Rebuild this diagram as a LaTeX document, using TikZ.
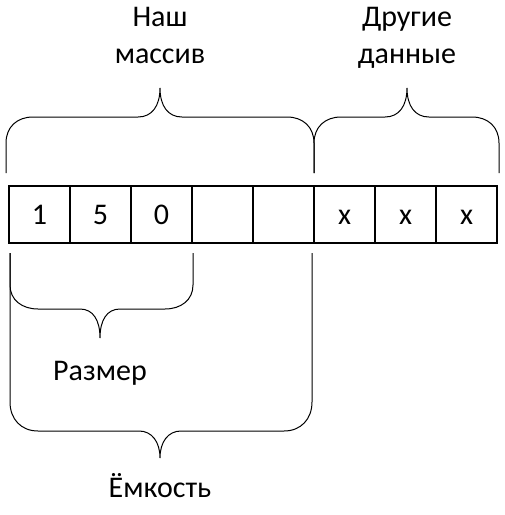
\documentclass[tikz,border=0pt]{standalone}
\usepackage{fontspec}
\setmainfont{Carlito}
\usetikzlibrary{positioning}

\tikzset{
  cell/.style={draw,line width=1.4pt,minimum width=61pt,minimum height=57pt,inner sep=0pt,outer sep=0pt},
  brc/.style={line width=1pt},
  lbl/.style={align=center,anchor=base}
}

\begin{document}
\begin{tikzpicture}[x=1pt,y=-1pt,font=\fontsize{30}{37}\selectfont]
      \useasboundingbox (0,0) rectangle (505,515);
      % the array cells
      \foreach \v [count=\i] in {1,5,0,{},{},x,x,x} {
	\node[cell] (c\i) at ({9+61*(\i-0.5)},214.5) {\vphantom{1}\v};
      }
      % braces above
      \draw[brc] (6,173) -- (6,143) .. controls (6,127) and (17,117) .. (33,117) -- (138,117)
      		.. controls (152,117) and (160,106) .. (160,88) coordinate (t1)
		.. controls (160,106) and (168,117) .. (182,117) -- (287,117)
		.. controls (303,117) and (314,127) .. (314,143) -- (314,173);
      \draw[brc] (314,173) -- (314,143) .. controls (314,127) and (325,117) .. (341,117) -- (385,117)
      		.. controls (399,117) and (407,106) .. (407,88) coordinate (t2)
		.. controls (407,106) and (415,117) .. (429,117) -- (472,117)
		.. controls (488,117) and (499,127) .. (499,143) -- (499,173);
      % braces below
      \draw[brc] (10,253) -- (10,285) .. controls (10,300) and (22,309) .. (38,309) -- (80,309)
      		.. controls (93,309) and (100,320) .. (100,338) coordinate (t3)
		.. controls (100,320) and (107,309) .. (120,309) -- (165,309)
		.. controls (181,309) and (193,300) .. (193,285) -- (193,253);
      \draw[brc] (10,253) -- (10,402) .. controls (10,419) and (21,431) .. (38,431) -- (139,431)
      		.. controls (152,431) and (160,442) .. (160,458) coordinate (t4)
		.. controls (160,442) and (168,431) .. (181,431) -- (284,431)
		.. controls (301,431) and (312,419) .. (312,402) -- (312,253);
      % labels
      \node[lbl] (ours) at (160,63) {Наш\\массив};
      \node[lbl] (other) at (407,63) {Другие\\данные};
      \node[lbl] (size) at (100,380) {Размер};
      \node[lbl] (cap) at (160,497) {Ёмкость};
\end{tikzpicture}
\end{document}
